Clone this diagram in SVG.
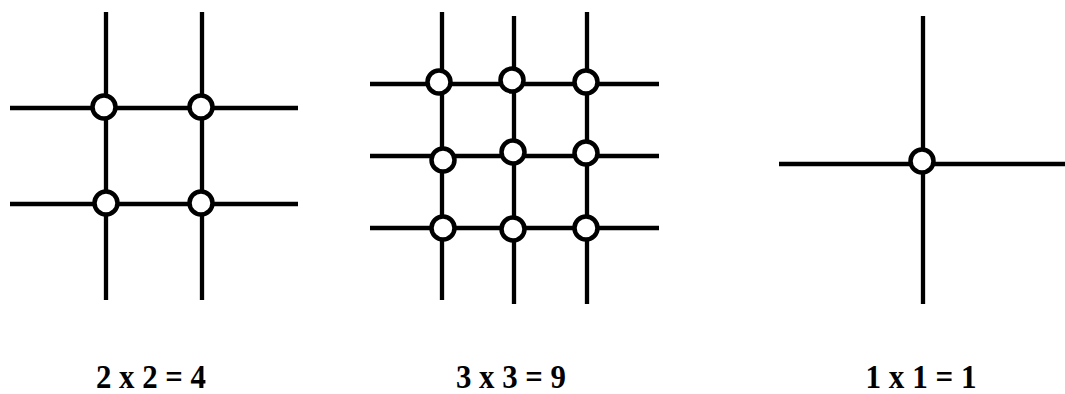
<svg xmlns="http://www.w3.org/2000/svg" width="1065" height="394" viewBox="0 0 1065 394">
<style>
.ln{stroke:#000;stroke-width:4.3;fill:none}
.nd{fill:#fff;stroke:#000;stroke-width:4.5}
.lb{font-family:"Liberation Serif",serif;font-weight:bold;font-size:33px;fill:#000;text-anchor:middle}
</style>
<rect width="1065" height="394" fill="#fff"/>
<g id="connectors">
<line class="ln" x1="106" y1="12" x2="106" y2="300"/>
<line class="ln" x1="202" y1="12" x2="202" y2="300"/>
<line class="ln" x1="10" y1="108" x2="298" y2="108"/>
<line class="ln" x1="10" y1="204" x2="298" y2="204"/>
<line class="ln" x1="442" y1="12" x2="442" y2="300"/>
<line class="ln" x1="514" y1="16" x2="514" y2="304"/>
<line class="ln" x1="587" y1="12" x2="587" y2="304"/>
<line class="ln" x1="370" y1="84" x2="659" y2="84"/>
<line class="ln" x1="370" y1="156" x2="659" y2="156"/>
<line class="ln" x1="370" y1="228" x2="659" y2="228"/>
<line class="ln" x1="923" y1="16" x2="923" y2="304"/>
<line class="ln" x1="779" y1="164" x2="1065" y2="164"/>
</g>
<g id="n1"><circle class="nd" cx="104" cy="107" r="11.5"/></g>
<g id="n2"><circle class="nd" cx="201" cy="107" r="11.5"/></g>
<g id="n3"><circle class="nd" cx="106" cy="203" r="11.5"/></g>
<g id="n4"><circle class="nd" cx="201" cy="203" r="11.5"/></g>
<g id="m1"><circle class="nd" cx="439" cy="82" r="11.5"/></g>
<g id="m2"><circle class="nd" cx="512" cy="80" r="11.5"/></g>
<g id="m3"><circle class="nd" cx="586" cy="82" r="11.5"/></g>
<g id="m4"><circle class="nd" cx="443" cy="160" r="11.5"/></g>
<g id="m5"><circle class="nd" cx="513" cy="152" r="11.5"/></g>
<g id="m6"><circle class="nd" cx="586" cy="153" r="11.5"/></g>
<g id="m7"><circle class="nd" cx="443" cy="228" r="11.5"/></g>
<g id="m8"><circle class="nd" cx="513" cy="229" r="11.5"/></g>
<g id="m9"><circle class="nd" cx="586" cy="228" r="11.5"/></g>
<g id="s1"><circle class="nd" cx="922" cy="161" r="11.5"/></g>
<g id="labels">
<text class="lb" x="151" y="388" textLength="110" lengthAdjust="spacingAndGlyphs">2 x 2 = 4</text>
<text class="lb" x="511" y="388" textLength="110" lengthAdjust="spacingAndGlyphs">3 x 3 = 9</text>
<text class="lb" x="921" y="388" textLength="111" lengthAdjust="spacingAndGlyphs">1 x 1 = 1</text>
</g>
</svg>
